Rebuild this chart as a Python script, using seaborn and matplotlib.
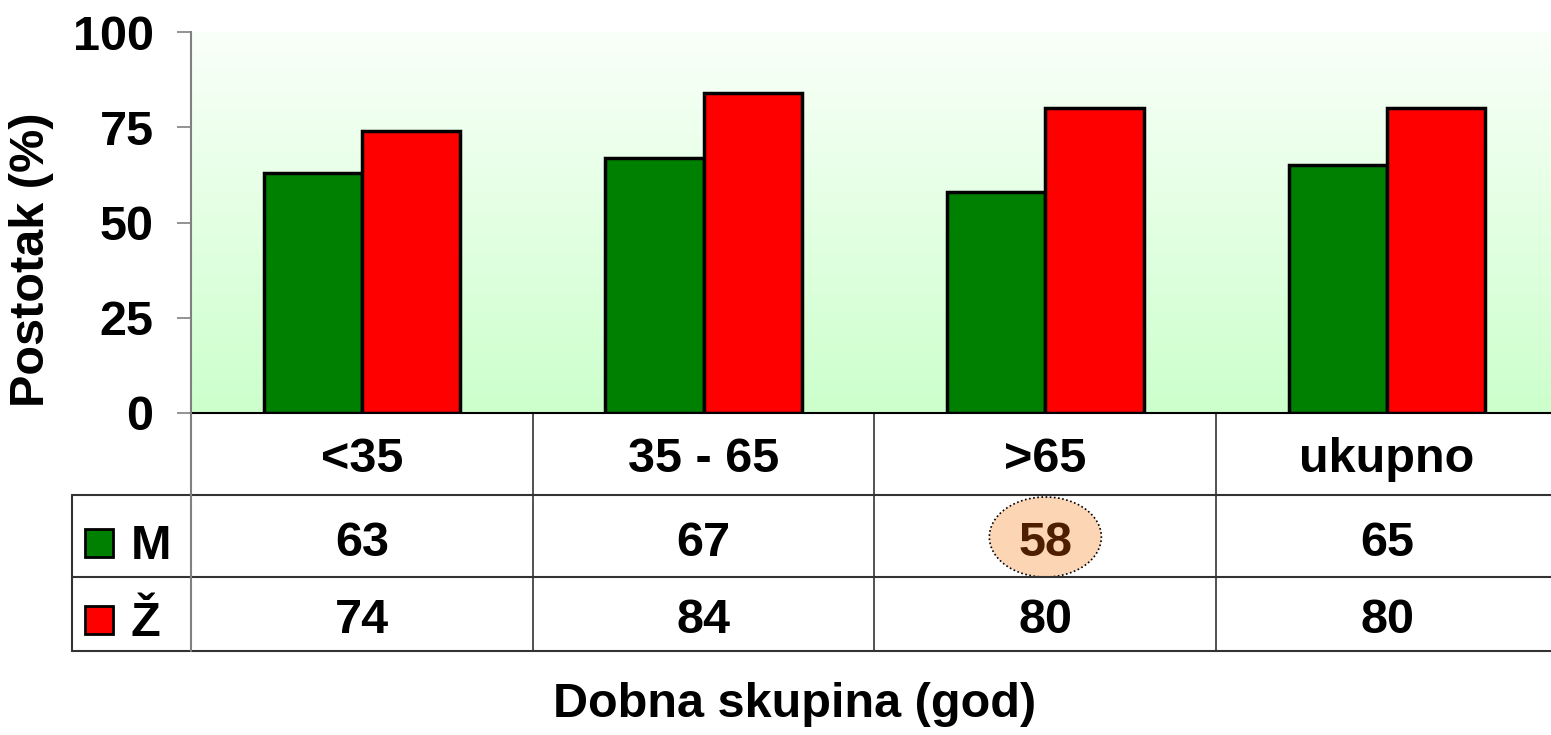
import numpy as np
import pandas as pd
import seaborn as sns
import matplotlib.pyplot as plt
from matplotlib.patches import Ellipse, Rectangle
from matplotlib.colors import LinearSegmentedColormap
import matplotlib.transforms as mtransforms

# data
categories = ["<35", "35 - 65", ">65", "ukupno"]
series = ["M", "Ž"]
values_m = [63, 67, 58, 65]
values_z = [74, 84, 80, 80]
y_ticks = [0, 25, 50, 75, 100]
colors = {"M": "#008000", "Ž": "#ff0000"}

df = pd.DataFrame({
    "skupina": categories * 2,
    "spol": ["M"] * 4 + ["Ž"] * 4,
    "postotak": values_m + values_z,
})

sns.set_theme(style="white")
plt.rcParams["font.family"] = ["Liberation Sans", "DejaVu Sans"]
plt.rcParams["font.weight"] = "bold"
plt.rcParams["text.color"] = "black"
plt.rcParams["axes.labelcolor"] = "black"
plt.rcParams["xtick.color"] = "black"
plt.rcParams["ytick.color"] = "black"

FS = 35
W, H = 1551, 735
fig = plt.figure(figsize=(W / 100, H / 100), dpi=100)
# plot area in pixels: x 191..1558, y 32..413
ax = fig.add_axes([191 / W, 1 - 413 / H, 1367 / W, 381 / H])

# gradient background
cmap = LinearSegmentedColormap.from_list("bg", ["#ccffcc", "#f9fff9"])
ax.imshow(np.linspace(0, 1, 256).reshape(-1, 1), cmap=cmap, origin="lower",
          extent=[-0.5, 3.5, 0, 100], aspect="auto", zorder=0)

sns.barplot(data=df, x="skupina", y="postotak", hue="spol", palette=colors,
            width=0.575, edgecolor="black", linewidth=2.5, saturation=1,
            legend=False, ax=ax, zorder=2)

ax.set_xlim(-0.5, 3.5)
ax.set_ylim(0, 100)
ax.set_yticks(y_ticks)
ax.set_yticklabels([str(t) for t in y_ticks], fontsize=FS, fontweight="bold")
ax.tick_params(axis="y", length=10, width=1.2, color="#808080", left=True,
               pad=17, labelcolor="black")
# category names sit in the header row of the table (baseline 59 px below axis)
ax.tick_params(axis="x", length=0, pad=42.5, labelsize=FS, labelcolor="black")
for lab in ax.get_xticklabels():
    lab.set_fontweight("bold")
    lab.set_verticalalignment("baseline")
ax.set_xlabel("")
ax.set_ylabel("Postotak (%)", fontsize=FS, fontweight="bold")
ax.yaxis.set_label_coords((54 - 191) / 1367, (413 - 260) / 381)

for side in ["top", "right"]:
    ax.spines[side].set_visible(False)
ax.spines["bottom"].set_color("black")
ax.spines["bottom"].set_linewidth(1.5)
ax.spines["left"].set_color("#808080")
ax.spines["left"].set_linewidth(1.5)
ax.spines["left"].set_zorder(5)

# data table below the chart
trans = mtransforms.blended_transform_factory(ax.transData, fig.transFigure)
y_rows = [1 - 413 / H, 1 - 495 / H, 1 - 577 / H, 1 - 651 / H]
x_left = -0.5 - 119 / 341.75
for y in y_rows[1:]:
    ax.plot([x_left, 3.6], [y, y], color="#333333", lw=1.5, transform=trans, clip_on=False)
ax.plot([x_left, x_left], [y_rows[1], y_rows[3]], color="#333333", lw=1.5,
        transform=trans, clip_on=False)
ax.plot([-0.5, -0.5], [y_rows[0], y_rows[3]], color="#808080", lw=1.5,
        transform=trans, clip_on=False)
for xb in [0.5, 1.5, 2.5]:
    ax.plot([xb, xb], [y_rows[0], y_rows[3]], color="#333333", lw=1.2,
            transform=trans, clip_on=False)

# highlight 58
ell = Ellipse((2, 1 - 537 / H), 112 / 341.75, 80 / H, facecolor="#fcd5b5",
              edgecolor="black", linestyle=(0, (1, 1.5)), lw=1.2,
              transform=trans, clip_on=False)
ax.add_patch(ell)

row_base = {"M": 1 - 556 / H, "Ž": 1 - 633 / H}
key_center = {"M": 1 - 543 / H, "Ž": 1 - 620 / H}
for name, vals in [("M", values_m), ("Ž", values_z)]:
    for i, v in enumerate(vals):
        c = "#4d1f00" if (name == "M" and i == 2) else "black"
        ax.text(i, row_base[name], str(v), transform=trans, ha="center", va="baseline",
                fontsize=FS, fontweight="bold", color=c)
    # legend key
    yk = key_center[name]
    fig.patches.append(Rectangle((85 / W, yk - 14 / H), 28 / W, 28 / H,
                                 facecolor=colors[name], edgecolor="black",
                                 lw=2, transform=fig.transFigure))
    fig.text(131 / W, row_base[name] - 3 / H, name, ha="left", va="baseline",
             fontsize=FS, fontweight="bold")

fig.text(795 / W, 1 - 717 / H, "Dobna skupina (god)", ha="center", va="baseline",
         fontsize=FS, fontweight="bold")

fig.savefig("out.png", dpi=100, facecolor="white")
